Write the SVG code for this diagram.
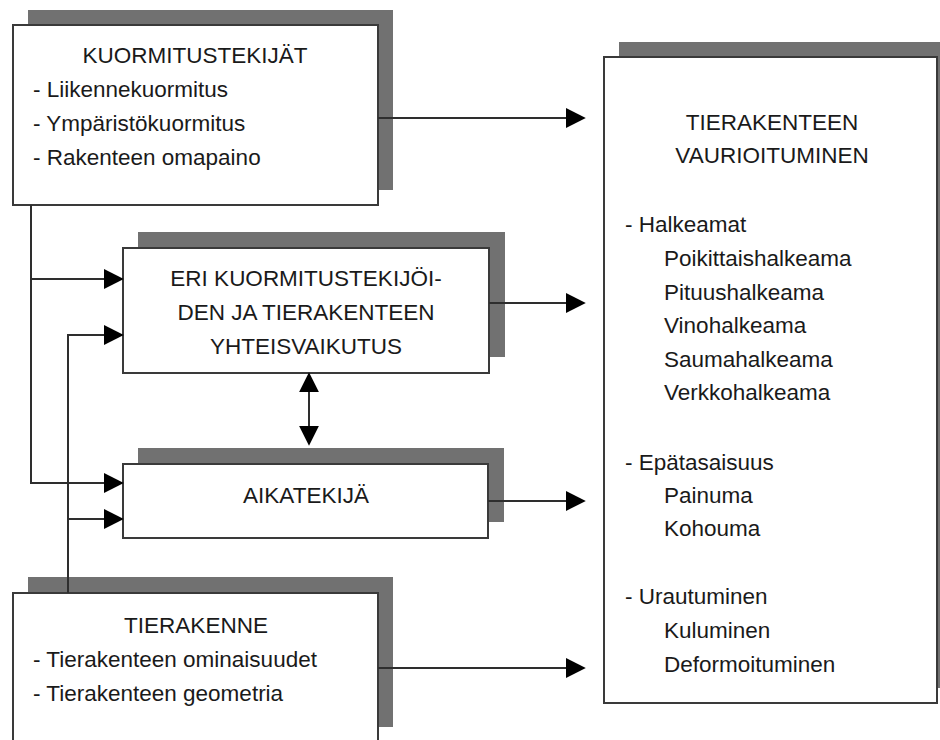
<svg xmlns="http://www.w3.org/2000/svg" width="940" height="740" viewBox="0 0 940 740">
<defs>
<style>
.shadow{fill:#717171;stroke:none}
.box{fill:#ffffff;stroke:#3a3a3a;stroke-width:2}
.t{font-family:"Liberation Sans",Arial,sans-serif;font-size:22.5px;fill:#1a1a1a}
.c{text-anchor:middle}
.ln{fill:none;stroke:#2e2e2e;stroke-width:2}
</style>
<marker id="ah" markerUnits="userSpaceOnUse" markerWidth="20" markerHeight="20" viewBox="0 0 19 19" refX="4" refY="9.5" orient="auto-start-reverse">
<path d="M0,0 L19,9.5 L0,19 Z" fill="#000"/>
</marker>
</defs>
<rect width="940" height="740" fill="#ffffff"/>

<g id="kuormitustekijat">
<rect class="shadow" x="28" y="10" width="365" height="180"/>
<rect class="box" x="13" y="25" width="365" height="180"/>
<text class="t c" x="195" y="63">KUORMITUSTEKIJÄT</text>
<text class="t" x="33" y="97">- Liikennekuormitus</text>
<text class="t" x="33" y="131">- Ympäristökuormitus</text>
<text class="t" x="33" y="165">- Rakenteen omapaino</text>
</g>

<g id="yhteisvaikutus">
<rect class="shadow" x="138" y="232" width="367" height="125"/>
<rect class="box" x="123" y="248" width="366" height="125"/>
<text class="t c" x="306" y="286">ERI KUORMITUSTEKIJÖI-</text>
<text class="t c" x="306" y="320">DEN JA TIERAKENTEEN</text>
<text class="t c" x="306" y="354">YHTEISVAIKUTUS</text>
</g>

<g id="aikatekija">
<rect class="shadow" x="138" y="448" width="366" height="74"/>
<rect class="box" x="123" y="464" width="365" height="74"/>
<text class="t c" x="306" y="503">AIKATEKIJÄ</text>
</g>

<g id="tierakenne">
<rect class="shadow" x="28" y="577" width="365" height="150"/>
<rect class="box" x="13" y="593" width="365" height="160"/>
<text class="t c" x="196" y="633">TIERAKENNE</text>
<text class="t" x="33" y="667">- Tierakenteen ominaisuudet</text>
<text class="t" x="33" y="701">- Tierakenteen geometria</text>
</g>

<g id="vaurioituminen">
<rect class="shadow" x="619" y="42" width="340" height="646"/>
<rect class="box" x="604" y="57" width="333" height="646"/>
<text class="t c" x="772" y="130">TIERAKENTEEN</text>
<text class="t c" x="772" y="163">VAURIOITUMINEN</text>
<text class="t" x="625" y="232">- Halkeamat</text>
<text class="t" x="664" y="266">Poikittaishalkeama</text>
<text class="t" x="664" y="300">Pituushalkeama</text>
<text class="t" x="664" y="333">Vinohalkeama</text>
<text class="t" x="664" y="367">Saumahalkeama</text>
<text class="t" x="664" y="400">Verkkohalkeama</text>
<text class="t" x="625" y="470">- Epätasaisuus</text>
<text class="t" x="664" y="503">Painuma</text>
<text class="t" x="664" y="536">Kohouma</text>
<text class="t" x="625" y="604">- Urautuminen</text>
<text class="t" x="664" y="638">Kuluminen</text>
<text class="t" x="664" y="672">Deformoituminen</text>
</g>

<g id="connectors">
<path class="ln" d="M378,118 L570,118" marker-end="url(#ah)"/>
<path class="ln" d="M31,205 L31,483 L108,483" marker-end="url(#ah)"/>
<path class="ln" d="M31,279 L108,279" marker-end="url(#ah)"/>
<path class="ln" d="M68,593 L68,335 L108,335" marker-end="url(#ah)"/>
<path class="ln" d="M68,519 L108,519" marker-end="url(#ah)"/>
<path class="ln" d="M309,388 L309,430" marker-start="url(#ah)" marker-end="url(#ah)"/>
<path class="ln" d="M489,303 L570,303" marker-end="url(#ah)"/>
<path class="ln" d="M488,501 L570,501" marker-end="url(#ah)"/>
<path class="ln" d="M378,668 L570,668" marker-end="url(#ah)"/>
</g>
</svg>
